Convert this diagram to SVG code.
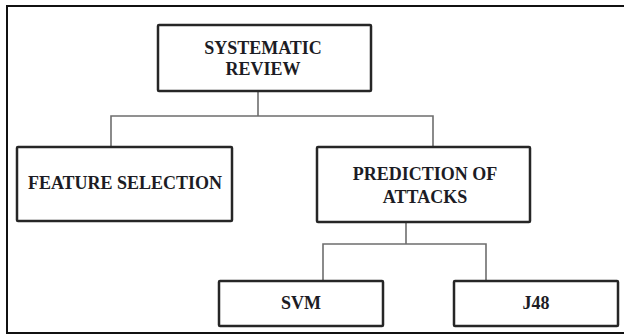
<svg xmlns="http://www.w3.org/2000/svg" width="624" height="335" viewBox="0 0 624 335">
<style>
.box{fill:#fff;stroke:#262626;stroke-width:2.5;}
.lbl{font-family:"Liberation Serif","Times New Roman",serif;font-weight:bold;font-size:18px;fill:#1c1c24;text-anchor:middle;}
.con{fill:none;stroke:#6e6e6e;stroke-width:1.6;}
</style>
<rect x="0" y="0" width="624" height="335" fill="#fff"/>
<path d="M624,6 H7 V333 H624" fill="none" stroke="#111" stroke-width="2"/>
<g id="connectors">
<path class="con" d="M258,91 V116 M111,147 V116 H433 V147"/>
<path class="con" d="M406,222 V244 M323,281 V244 H486 V281"/>
</g>
<g id="systematic-review">
<rect class="box" x="158" y="25" width="213" height="66" rx="1"/>
<text class="lbl" x="263" y="54">SYSTEMATIC</text>
<text class="lbl" x="263" y="75">REVIEW</text>
</g>
<g id="feature-selection">
<rect class="box" x="17" y="147" width="215" height="74" rx="1"/>
<text class="lbl" x="125" y="189">FEATURE SELECTION</text>
</g>
<g id="prediction-of-attacks">
<rect class="box" x="317" y="147" width="213" height="75" rx="1"/>
<text class="lbl" x="425" y="180">PREDICTION OF</text>
<text class="lbl" x="425" y="203">ATTACKS</text>
</g>
<g id="svm">
<rect class="box" x="219" y="281" width="164" height="45" rx="1"/>
<text class="lbl" x="301" y="309">SVM</text>
</g>
<g id="j48">
<rect class="box" x="454" y="281" width="164" height="45" rx="1"/>
<text class="lbl" x="536" y="309">J48</text>
</g>
</svg>
